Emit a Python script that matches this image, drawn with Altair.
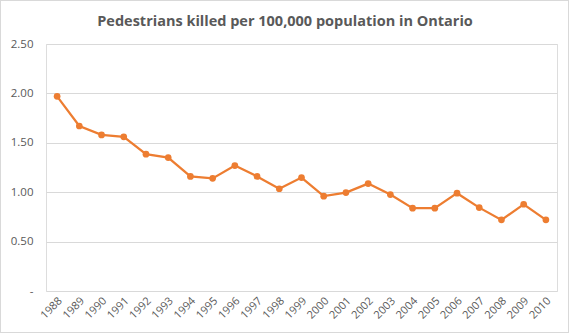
import altair as alt
import pandas as pd

years = [str(y) for y in range(1988, 2011)]
rates = [1.97, 1.67, 1.58, 1.56, 1.385, 1.35, 1.16, 1.14, 1.27, 1.16, 1.035,
         1.148, 0.96, 0.996, 1.087, 0.976, 0.838, 0.838, 0.99, 0.844, 0.72, 0.878, 0.72]
y_ticks = [0, 0.5, 1.0, 1.5, 2.0, 2.5]
title_text = "Pedestrians killed per 100,000 population in Ontario"

df = pd.DataFrame({"year": years, "rate": rates})

FONT = "Open Sans"
GREY = "#595959"
ORANGE = "#ED7D31"

base = alt.Chart(df).encode(
    x=alt.X("year:O", sort=years, scale=alt.Scale(paddingInner=0, paddingOuter=0),
            axis=alt.Axis(title=None, labelAngle=-45, labelAlign="right", labelBaseline="middle",
                          ticks=False, domain=False, labelPadding=8, labelOffset=3, labelFontSize=11,
                          labelColor=GREY, labelFont=FONT, grid=False)),
    y=alt.Y("rate:Q", scale=alt.Scale(domain=[0, 2.5], nice=False),
            axis=alt.Axis(title=None, values=y_ticks, ticks=False, domain=False,
                          labelExpr="datum.value == 0 ? '-\u2007' : format(datum.value, '.2f')",
                          labelPadding=13, labelFontSize=11.5, labelColor=GREY, labelFont=FONT,
                          gridColor="#d9d9d9", gridWidth=1)),
)

line = base.mark_line(color=ORANGE, strokeWidth=2.25)
points = base.mark_point(color=ORANGE, filled=True, opacity=1, size=45)

border = alt.Chart(df).mark_rect(filled=False, stroke="#d9d9d9", strokeWidth=1).encode(
    x=alt.value(-45.5), x2=alt.value(522.5), y=alt.value(-43.5), y2=alt.value(288.5)
)

title = alt.Chart(pd.DataFrame({"t": [title_text]})).mark_text(
    font=FONT, fontSize=14.5, fontWeight="bold", color=GREY, align="center", baseline="alphabetic"
).encode(x=alt.value(239), y=alt.value(-18), text="t:N")

chart = alt.layer(border, line, points, title).properties(
    width=511, height=247,
    autosize=alt.AutoSizeParams(type="none"),
    padding={"left": 46, "top": 44, "right": 13, "bottom": 43},
).configure_view(stroke=None).configure(background="white")

chart.save("out.html", embed_options={"renderer": "svg", "actions": False})
